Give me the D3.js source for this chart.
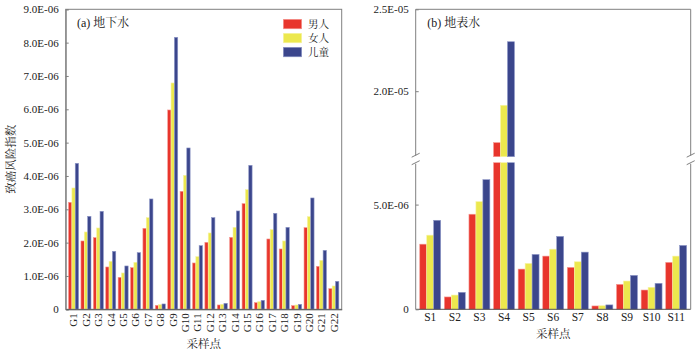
<!DOCTYPE html>
<html><head><meta charset="utf-8">
<script src="https://cdn.jsdelivr.net/npm/d3@7"></script>
<style>
body{margin:0;background:#fff;}
text{font-family:"Liberation Serif","Times New Roman",serif;}
.cjk{font-family:"Noto Serif CJK SC","Noto Sans CJK SC",serif;}
</style></head>
<body><svg id="c" width="700" height="354"></svg>
<script>
const seriesNames = ["男人","女人","儿童"];
const colors = ["#e8352c","#ece84e","#3b468c"];
const strokeColors = ["#f59a94","#f7f4a6","#8f98c8"];

const gCats = ["G1","G2","G3","G4","G5","G6","G7","G8","G9","G10","G11","G12","G13","G14","G15","G16","G17","G18","G19","G20","G21","G22"];
const gMen   = [3.21,2.05,2.15,1.27,0.96,1.25,2.43,0.12,5.98,3.54,1.39,2.01,0.13,2.16,3.17,0.20,2.11,1.81,0.11,2.45,1.29,0.62];
const gWomen = [3.64,2.32,2.44,1.44,1.09,1.41,2.75,0.14,6.79,4.02,1.58,2.29,0.15,2.46,3.59,0.23,2.39,2.05,0.13,2.78,1.47,0.70];
const gChild = [4.38,2.79,2.94,1.74,1.30,1.70,3.31,0.16,8.16,4.84,1.91,2.75,0.18,2.95,4.32,0.27,2.88,2.46,0.15,3.34,1.77,0.84];

const sCats = ["S1","S2","S3","S4","S5","S6","S7","S8","S9","S10","S11"];
const sMen   = [3.11,0.59,4.54,16.86,1.92,2.54,2.00,0.16,1.19,0.92,2.24];
const sWomen = [3.54,0.68,5.14,19.14,2.19,2.87,2.27,0.17,1.35,1.05,2.54];
const sChild = [4.25,0.81,6.19,23.02,2.62,3.48,2.73,0.21,1.62,1.24,3.05];

const gTicks = [0,1,2,3,4,5,6,7,8,9];
const gTickLabels = ["0","1.0E-06","2.0E-06","3.0E-06","4.0E-06","5.0E-06","6.0E-06","7.0E-06","8.0E-06","9.0E-06"];
const sLowTicks = [0,5];
const sLowTickLabels = ["0","5.0E-06"];
const sHighTicks = [20,25];
const sHighTickLabels = ["2.0E-05","2.5E-05"];
const sBreak = [7,16];   // axis break: lower segment up to 7E-06, upper from 1.6E-05

const svg = d3.select("#c");
const axisCol = "#808080";

// ---------- Panel (a) ----------
(function(){
  const x0=65.7,x1=341.7,yTop=9.3,yBot=309.3;
  const g = svg.append("g");
  const x = d3.scaleBand().domain(gCats).range([x0,x1]).paddingInner(0.19).paddingOuter(0.23);
  const xs = d3.scaleBand().domain([0,1,2]).range([0,x.bandwidth()]);
  const y = d3.scaleLinear().domain([0,9]).range([yBot,yTop]);
  const data = [gMen,gWomen,gChild];
  data.forEach((arr,si)=>{
    g.selectAll(null).data(arr).enter().append("rect")
      .attr("x",(d,i)=>x(gCats[i])+xs(si))
      .attr("width",xs.bandwidth())
      .attr("y",d=>y(d))
      .attr("height",d=>y(0)-y(d))
      .attr("fill",colors[si])
      .attr("stroke",strokeColors[si]).attr("stroke-width",0.6);
  });
  g.append("rect").attr("x",x0).attr("y",yTop).attr("width",x1-x0).attr("height",yBot-yTop)
    .attr("fill","none").attr("stroke",axisCol).attr("stroke-width",1);
  const ya = d3.axisLeft(y).tickValues(gTicks).tickSize(-3).tickPadding(7)
    .tickFormat((d,i)=>gTickLabels[i]);
  const yg = g.append("g").attr("transform",`translate(${x0},0)`).call(ya);
  yg.select(".domain").attr("stroke",axisCol);
  yg.selectAll(".tick line").attr("stroke",axisCol);
  yg.selectAll(".tick text").attr("font-size",11).attr("fill","#222");
  const xa = d3.axisBottom(x).tickSize(0).tickPadding(4);
  const xg = g.append("g").attr("transform",`translate(0,${yBot})`).call(xa);
  xg.select(".domain").attr("stroke","#555");
  xg.selectAll(".tick text").attr("font-size",11).attr("fill","#222")
    .attr("transform","rotate(-90)").attr("text-anchor","end").attr("dy","0.35em").attr("x",-4).attr("y",0);
  g.append("text").attr("x",77).attr("y",26.5).attr("font-size",12).attr("fill","#222")
    .html('(a) <tspan class="cjk">地下水</tspan>');
  g.append("text").attr("class","cjk").attr("transform",`translate(15,${(yTop+yBot)/2}) rotate(-90)`)
    .attr("text-anchor","middle").attr("font-size",11.5).attr("fill","#222").text("致癌风险指数");
  g.append("text").attr("class","cjk").attr("x",(x0+x1)/2).attr("y",348)
    .attr("text-anchor","middle").attr("font-size",11.5).attr("fill","#222").text("采样点");
  const lg = g.append("g");
  seriesNames.forEach((n,i)=>{
    lg.append("rect").attr("x",283.3).attr("y",19.3+i*14).attr("width",18.4).attr("height",9.5)
      .attr("fill",colors[i]).attr("stroke",strokeColors[i]).attr("stroke-width",0.6);
    lg.append("text").attr("class","cjk").attr("x",308).attr("y",28.2+i*14)
      .attr("font-size",10.5).attr("fill","#222").text(n);
  });
})();

// ---------- Panel (b) ----------
(function(){
  const x0=415.7,x1=690.7,yTop=9.3,yBot=309.3,yLowTop=162.7,yHighBot=156.7;
  const g = svg.append("g");
  const x = d3.scaleBand().domain(sCats).range([x0,x1]).paddingInner(0.15).paddingOuter(0.165);
  const xs = d3.scaleBand().domain([0,1,2]).range([0,x.bandwidth()]);
  const yL = d3.scaleLinear().domain([0,sBreak[0]]).range([yBot,yLowTop]);
  const yH = d3.scaleLinear().domain([sBreak[1],25]).range([yHighBot,yTop]);
  const data = [sMen,sWomen,sChild];
  data.forEach((arr,si)=>{
    g.selectAll(null).data(arr).enter().append("rect")
      .attr("x",(d,i)=>x(sCats[i])+xs(si))
      .attr("width",xs.bandwidth())
      .attr("y",d=>yL(Math.min(d,sBreak[0])))
      .attr("height",d=>yL(0)-yL(Math.min(d,sBreak[0])))
      .attr("fill",colors[si]).attr("stroke",strokeColors[si]).attr("stroke-width",0.6);
    g.selectAll(null).data(arr.map((d,i)=>({d,i})).filter(o=>o.d>sBreak[1])).enter().append("rect")
      .attr("x",o=>x(sCats[o.i])+xs(si))
      .attr("width",xs.bandwidth())
      .attr("y",o=>yH(o.d))
      .attr("height",o=>yH(sBreak[1])-yH(o.d))
      .attr("fill",colors[si]).attr("stroke",strokeColors[si]).attr("stroke-width",0.6);
  });
  const ln = (a,b,c,d,col)=>g.append("line").attr("x1",a).attr("y1",b).attr("x2",c).attr("y2",d)
      .attr("stroke",col||axisCol).attr("stroke-width",1);
  ln(x0,yTop,x1,yTop);
  ln(x0,yBot,x1,yBot,"#555");
  [x0,x1].forEach(xx=>{
    ln(xx,yTop,xx,yHighBot-1);
    ln(xx,yLowTop+1,xx,yBot);
    ln(xx-4,yHighBot+0.5,xx+4,yHighBot-3.5);
    ln(xx-4,yLowTop+2,xx+4,yLowTop-2);
  });
  const yaL = d3.axisLeft(yL).tickValues(sLowTicks).tickSize(-3).tickPadding(7)
    .tickFormat((d,i)=>sLowTickLabels[i]);
  const ygL = g.append("g").attr("transform",`translate(${x0},0)`).call(yaL);
  ygL.select(".domain").remove();
  ygL.selectAll(".tick line").attr("stroke",axisCol);
  ygL.selectAll(".tick text").attr("font-size",11).attr("fill","#222");
  const yaH = d3.axisLeft(yH).tickValues(sHighTicks).tickSize(-3).tickPadding(7)
    .tickFormat((d,i)=>sHighTickLabels[i]);
  const ygH = g.append("g").attr("transform",`translate(${x0},0)`).call(yaH);
  ygH.select(".domain").remove();
  ygH.selectAll(".tick line").attr("stroke",axisCol);
  ygH.selectAll(".tick text").attr("font-size",11).attr("fill","#222");
  const xa = d3.axisBottom(x).tickSize(0).tickPadding(4);
  const xg = g.append("g").attr("transform",`translate(0,${yBot})`).call(xa);
  xg.select(".domain").remove();
  xg.selectAll(".tick text").attr("font-size",11.5).attr("fill","#222");
  g.append("text").attr("x",427.3).attr("y",26.5).attr("font-size",12).attr("fill","#222")
    .html('(b) <tspan class="cjk">地表水</tspan>');
  g.append("text").attr("class","cjk").attr("x",(x0+x1)/2).attr("y",338)
    .attr("text-anchor","middle").attr("font-size",11.5).attr("fill","#222").text("采样点");
})();
</script>
</body></html>
